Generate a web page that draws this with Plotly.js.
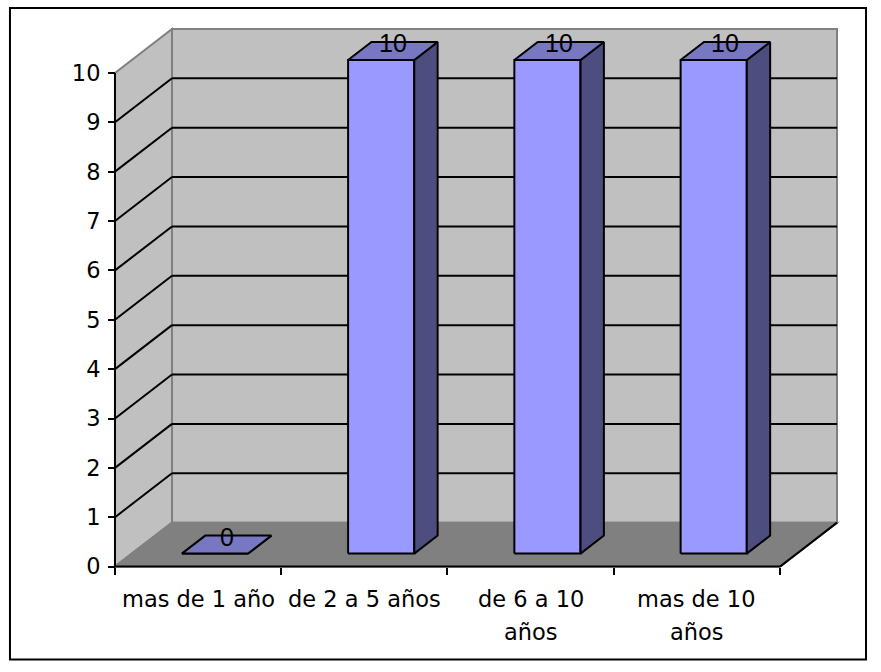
<!DOCTYPE html>
<html>
<head>
<meta charset="utf-8">
<script src="https://cdn.plot.ly/plotly-3.0.1.min.js"></script>
<style>html,body{margin:0;padding:0;background:#fff;}#chart{width:881px;height:672px;}</style>
</head>
<body>
<div id="chart"></div>
<script>
// ---- data ----
const categories = ["mas de 1 año", "de 2 a 5 años", "de 6 a 10<br>años", "mas de 10<br>años"];
const values = [0, 10, 10, 10];
const yTickVals = [0, 1, 2, 3, 4, 5, 6, 7, 8, 9, 10];
const yTickText = ["0", "1", "2", "3", "4", "5", "6", "7", "8", "9", "10"];
const yMax = 10;

// ---- geometry (3D look) ----
const W = 881, H = 672;
const Sx = 166.25;          // px per category
const Sy = 49.4;            // px per value unit
const Dx = 57 / Sx;         // depth offset in x units
const Dy = 44 / Sy;         // depth offset in y units
const f0 = 0.295, f1 = 0.705; // bar depth span (fraction of full depth)
const hw = 0.199;           // half bar width
const n = categories.length;
const xLo = -0.56, xHi = n - 0.5 + Dx + 0.03;
const yLo = -0.15, yHi = yMax + Dy + 0.06;
const frontLeftPx = 115, zeroPx = 567;
const mL = frontLeftPx - (-0.5 - xLo) * Sx;
const plotW = (xHi - xLo) * Sx;
const mR = W - mL - plotW;
const mB = H - (zeroPx + (0 - yLo) * Sy);
const plotH = (yHi - yLo) * Sy;
const mT = H - mB - plotH;
const px2paperX = p => (p - mL) / plotW;
const px2paperY = p => (H - mB - p) / plotH;

const wallColor = "#C0C0C0", floorColor = "#808080", edgeGray = "#808080";
const frontColor = "#9999FF", sideColor = "#4D4D80", topColor = "#7777C2";

const shapes = [];
const xl = -0.5, xr = n - 0.5;
function poly(pts, fill, lineColor, lw) {
  let d = "M" + pts.map(p => p[0] + "," + p[1]).join(" L") + " Z";
  shapes.push({type: "path", xref: "x", yref: "y", path: d, fillcolor: fill,
    line: {color: lineColor, width: lw}, layer: "below"});
}
function seg(x0, y0, x1, y1, color, lw) {
  shapes.push({type: "line", xref: "x", yref: "y", x0: x0, y0: y0, x1: x1, y1: y1,
    line: {color: color, width: lw}, layer: "below"});
}
// back wall
poly([[xl + Dx, Dy], [xr + Dx, Dy], [xr + Dx, yMax + Dy], [xl + Dx, yMax + Dy]], wallColor, edgeGray, 2);
// left wall
poly([[xl, 0], [xl + Dx, Dy], [xl + Dx, yMax + Dy], [xl, yMax]], wallColor, edgeGray, 2);
// floor
poly([[xl, 0], [xr, 0], [xr + Dx, Dy], [xl + Dx, Dy]], floorColor, edgeGray, 2);
// gridlines
yTickVals.forEach(v => {
  if (v > 0 && v < yMax) {
    seg(xl + Dx, v + Dy, xr + Dx, v + Dy, "#000000", 2);
    seg(xl, v, xl + Dx, v + Dy, "#000000", 2);
  }
});
// front axis lines
seg(xl, 0, xl, yMax, "#000000", 2);
seg(xl, 0, xr, 0, "#000000", 2);
seg(xr, 0, xr + Dx, Dy, "#000000", 2);
// outer border
shapes.push({type: "rect", xref: "paper", yref: "paper",
  x0: px2paperX(10), x1: px2paperX(866), y0: px2paperY(660), y1: px2paperY(8),
  line: {color: "#000000", width: 2}, fillcolor: "rgba(0,0,0,0)", layer: "above"});

// ---- bars as traces ----
const traces = [];
function face(pts, color) {
  const xs = pts.map(p => p[0]); const ys = pts.map(p => p[1]);
  xs.push(pts[0][0]); ys.push(pts[0][1]);
  traces.push({type: "scatter", mode: "lines", x: xs, y: ys, fill: "toself",
    fillcolor: color, line: {color: "#000000", width: 2}, hoverinfo: "skip", showlegend: false});
}
values.forEach((v, i) => {
  const a = i - hw, b = i + hw;
  face([[a + f0 * Dx, f0 * Dy], [b + f0 * Dx, f0 * Dy], [b + f0 * Dx, v + f0 * Dy], [a + f0 * Dx, v + f0 * Dy]], frontColor);
  face([[b + f0 * Dx, f0 * Dy], [b + f1 * Dx, f1 * Dy], [b + f1 * Dx, v + f1 * Dy], [b + f0 * Dx, v + f0 * Dy]], sideColor);
  face([[a + f0 * Dx, v + f0 * Dy], [b + f0 * Dx, v + f0 * Dy], [b + f1 * Dx, v + f1 * Dy], [a + f1 * Dx, v + f1 * Dy]], topColor);
});

// ---- annotations ----
const annotations = [];
const fm = (f0 + f1) / 2;
values.forEach((v, i) => {
  annotations.push({x: i + fm * Dx, y: v + fm * Dy, xref: "x", yref: "y", text: String(v),
    showarrow: false, yanchor: "middle", xanchor: "center", yshift: 7.5,
    font: {family: "Liberation Sans, Arial, sans-serif", size: 25, color: "#000000"}});
});
categories.forEach((c, i) => {
  c.split("<br>").forEach((line, j) => {
    annotations.push({x: i, y: 0, xref: "x", yref: "y", text: line, showarrow: false,
      yanchor: "middle", xanchor: "center", yshift: -32 - 33 * j,
      font: {family: "DejaVu Sans, sans-serif", size: 22.5, color: "#000000"}});
  });
});

const layout = {
  width: W, height: H,
  margin: {l: mL, r: mR, t: mT, b: mB, pad: 0},
  paper_bgcolor: "#FFFFFF", plot_bgcolor: "rgba(0,0,0,0)",
  showlegend: false,
  xaxis: {range: [xLo, xHi], anchor: "free", position: (0 - yLo) / (yHi - yLo),
    tickmode: "array", tickvals: [-0.5, 0.5, 1.5, 2.5, 3.5], ticktext: ["", "", "", "", ""],
    ticks: "outside", ticklen: 7, tickwidth: 2, tickcolor: "#000000",
    showticklabels: false, showgrid: false, zeroline: false, showline: false, fixedrange: true},
  yaxis: {range: [yLo, yHi], anchor: "free", position: (-0.5 - xLo) / (xHi - xLo),
    tickmode: "array", tickvals: yTickVals, ticktext: yTickText,
    ticks: "outside", ticklen: 7, tickwidth: 2, tickcolor: "#000000",
    ticklabelstandoff: 3,
    tickfont: {family: "DejaVu Sans, sans-serif", size: 22.5, color: "#000000"},
    showgrid: false, zeroline: false, showline: false, fixedrange: true},
  shapes: shapes,
  annotations: annotations
};
Plotly.newPlot("chart", traces, layout, {staticPlot: true, displayModeBar: false});
</script>
</body>
</html>
